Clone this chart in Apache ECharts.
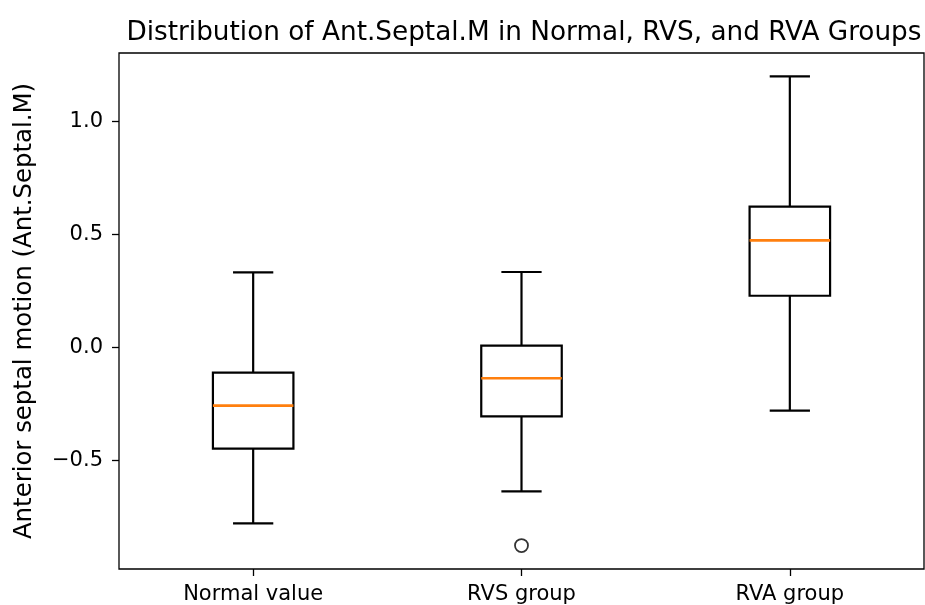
<!DOCTYPE html>
<html>
<head>
<meta charset="utf-8">
<script src="https://cdn.jsdelivr.net/npm/echarts@6/dist/echarts.min.js"></script>
<style>
  html, body { margin: 0; padding: 0; background: #fff; }
  #chart { width: 925px; height: 605px; }
</style>
</head>
<body>
<div id="chart"></div>
<script>
// box plot statistics
const categories = ['Normal value', 'RVS group', 'RVA group'];
const lowerWhisker = [-0.779, -0.637, -0.280];
const q1 = [-0.448, -0.306, 0.228];
const median = [-0.258, -0.137, 0.473];
const q3 = [-0.112, 0.007, 0.622];
const upperWhisker = [0.331, 0.333, 1.198];
const outliers = [[1, -0.877]];
const yTicks = [-0.5, 0, 0.5, 1.0];

const font = 'DejaVu Sans';

// matplotlib style 5% margin around the data
const allVals = lowerWhisker.concat(upperWhisker, outliers.map(o => o[1]));
const dMin = Math.min.apply(null, allVals);
const dMax = Math.max.apply(null, allVals);
const pad = (dMax - dMin) * 0.05;

const boxData = categories.map((c, i) =>
  [i, lowerWhisker[i], q1[i], median[i], q3[i], upperWhisker[i]]);

function renderBox(params, api) {
  const i = api.value(0);
  const band = api.size([1, 0])[0];
  const half = band * 0.15;
  const cap = band * 0.075;
  const pLw = api.coord([i, api.value(1)]);
  const pQ1 = api.coord([i, api.value(2)]);
  const pMed = api.coord([i, api.value(3)]);
  const pQ3 = api.coord([i, api.value(4)]);
  const pUw = api.coord([i, api.value(5)]);
  const x = pMed[0];
  const black = { stroke: '#000', lineWidth: 2.2, fill: null };
  const line = (x1, y1, x2, y2, style) => ({
    type: 'line', shape: { x1: x1, y1: y1, x2: x2, y2: y2 }, style: style
  });
  return {
    type: 'group',
    children: [
      line(x, pQ3[1], x, pUw[1], black),
      line(x, pQ1[1], x, pLw[1], black),
      line(x - cap, pUw[1], x + cap, pUw[1], black),
      line(x - cap, pLw[1], x + cap, pLw[1], black),
      {
        type: 'rect',
        shape: { x: x - half, y: pQ3[1], width: half * 2, height: pQ1[1] - pQ3[1] },
        style: { stroke: '#000', lineWidth: 2.2, fill: 'none' }
      },
      line(x - half, pMed[1], x + half, pMed[1], { stroke: '#ff7f0e', lineWidth: 2.6 })
    ]
  };
}

const chart = echarts.init(document.getElementById('chart'));
chart.setOption({
  backgroundColor: '#fff',
  animation: false,
  title: {
    text: 'Distribution of Ant.Septal.M in Normal, RVS, and RVA Groups',
    left: 519,
    textAlign: 'center',
    top: 15,
    textStyle: { fontFamily: font, fontSize: 26.3, fontWeight: 'normal', color: '#000' }
  },
  grid: {
    left: 119, right: 1, top: 53, bottom: 35,
    show: true, borderColor: '#000', borderWidth: 1.3, backgroundColor: 'transparent'
  },
  xAxis: {
    type: 'category',
    data: categories,
    boundaryGap: true,
    axisLine: { show: false, onZero: false },
    axisTick: { show: true, alignWithLabel: true, length: 7, lineStyle: { color: '#000', width: 1.3 } },
    axisLabel: { margin: 15, fontFamily: font, fontSize: 21, color: '#000' },
    splitLine: { show: false }
  },
  yAxis: {
    type: 'value',
    min: dMin - pad,
    max: dMax + pad,
    name: 'Anterior septal motion (Ant.Septal.M)',
    nameLocation: 'middle',
    nameRotate: 90,
    nameGap: 82,
    nameTextStyle: { fontFamily: font, fontSize: 24.4, color: '#000' },
    axisLine: { show: false },
    axisTick: { show: true, length: 7, customValues: yTicks, lineStyle: { color: '#000', width: 1.3 } },
    axisLabel: {
      margin: 16, fontFamily: font, fontSize: 21, color: '#000',
      customValues: yTicks,
      formatter: v => v.toFixed(1).replace('-', '\u2212')
    },
    splitLine: { show: false }
  },
  series: [
    {
      type: 'custom',
      renderItem: renderBox,
      encode: { x: 0, y: [1, 2, 3, 4, 5] },
      data: boxData,
      z: 3
    },
    {
      type: 'scatter',
      data: outliers,
      symbol: 'circle',
      symbolSize: 13,
      itemStyle: { color: '#fff', borderColor: '#000', borderWidth: 1.8 },
      z: 4
    }
  ]
});
</script>
</body>
</html>
